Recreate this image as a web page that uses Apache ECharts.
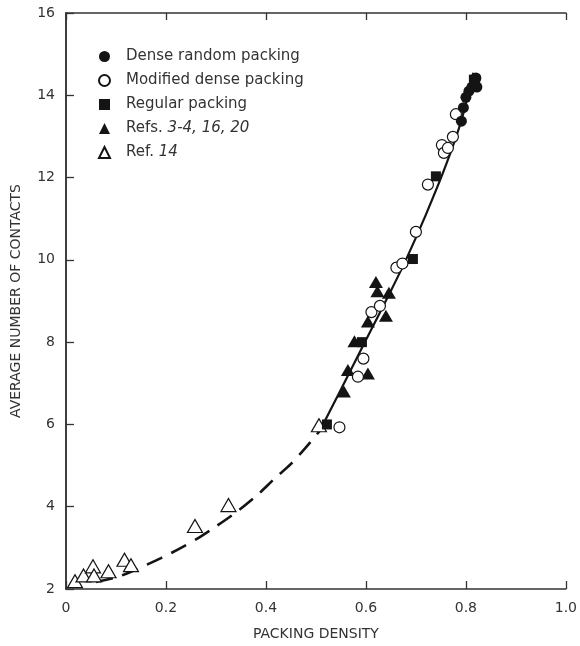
<!DOCTYPE html>
<html>
<head>
<meta charset="utf-8">
<script src="https://cdn.jsdelivr.net/npm/echarts@6/dist/echarts.min.js"></script>
<style>
  html, body { margin: 0; padding: 0; background: #fff; }
  #chart { width: 580px; height: 646px; }
</style>
</head>
<body>
<div id="chart"></div>
<script>
// Axis ticks
const xTicks = [0, 0.2, 0.4, 0.6, 0.8, 1.0];
const yTicks = [2, 4, 6, 8, 10, 12, 14, 16];

// Measured points: [packing density, average number of contacts]
const denseRandom = [
  [0.791, 13.37], [0.795, 13.7], [0.800, 13.95], [0.806, 14.1],
  [0.812, 14.2], [0.818, 14.35], [0.822, 14.2], [0.820, 14.42]
];
const modifiedDense = [
  [0.547, 5.93], [0.584, 7.16], [0.595, 7.6], [0.611, 8.73], [0.628, 8.88],
  [0.661, 9.81], [0.673, 9.91], [0.700, 10.68], [0.724, 11.83],
  [0.752, 12.79], [0.756, 12.6], [0.764, 12.72], [0.774, 12.99], [0.780, 13.54]
];
const regular = [
  [0.522, 6.0], [0.592, 8.0], [0.694, 10.02], [0.740, 12.03], [0.816, 14.38]
];
const refs3_4_16_20 = [
  [0.620, 9.46], [0.623, 9.24], [0.646, 9.2], [0.604, 8.5], [0.640, 8.64],
  [0.577, 8.02], [0.564, 7.32], [0.604, 7.24], [0.556, 6.8]
];
const ref14 = [
  [0.018, 2.19], [0.035, 2.33], [0.054, 2.55], [0.056, 2.33], [0.085, 2.43],
  [0.117, 2.71], [0.130, 2.58], [0.258, 3.53], [0.325, 4.04], [0.506, 5.98]
];

// Fitted curve: solid over the measured range, dashed as extrapolation
const curveSolid = [
  [0.508, 5.85], [0.55, 6.85], [0.60, 8.05], [0.65, 9.25], [0.68, 10.0],
  [0.72, 11.1], [0.76, 12.3], [0.79, 13.35], [0.815, 14.55]
];
const curveDashed = [
  [0.06, 2.17], [0.10, 2.28], [0.13, 2.42], [0.19, 2.75], [0.23, 3.0],
  [0.27, 3.28], [0.30, 3.52], [0.344, 3.9], [0.384, 4.3], [0.417, 4.68],
  [0.45, 5.04], [0.48, 5.44], [0.508, 5.85]
];

const ink = '#141414';
const textColor = '#333333';
const fontFamily = 'DejaVu Sans';

const chart = echarts.init(document.getElementById('chart'), null, { renderer: 'canvas' });

const openStyle = { color: '#ffffff', borderColor: ink, borderWidth: 1.2, opacity: 1 };
const filledStyle = { color: ink, opacity: 1 };

chart.setOption({
  animation: false,
  backgroundColor: '#ffffff',
  grid: { left: 66, right: 7, top: 13, bottom: 53 },
  legend: {
    orient: 'vertical',
    left: 93,
    top: 44,
    itemWidth: 11,
    itemHeight: 11,
    itemGap: 9,
    data: [
      { name: 'Dense random packing', icon: 'circle' },
      { name: 'Modified dense packing', icon: 'circle' },
      { name: 'Regular packing', icon: 'rect' },
      { name: 'Refs. 3-4, 16, 20', icon: 'triangle' },
      { name: 'Ref. 14', icon: 'triangle' }
    ],
    formatter: function (name) {
      if (name === 'Refs. 3-4, 16, 20') return 'Refs. {i|3-4, 16, 20}';
      if (name === 'Ref. 14') return 'Ref. {i|14}';
      return name;
    },
    textStyle: {
      fontFamily: fontFamily, fontSize: 15, color: textColor, padding: [0, 0, 0, 11],
      rich: { i: { fontFamily: fontFamily, fontSize: 15, fontStyle: 'italic', color: textColor } }
    }
  },
  xAxis: [
    {
      type: 'value', min: 0, max: 1, interval: 0.2, position: 'bottom',
      name: 'PACKING DENSITY', nameLocation: 'middle', nameGap: 38,
      nameTextStyle: { fontFamily: fontFamily, fontSize: 14, color: textColor },
      axisLine: { show: true, lineStyle: { color: '#333', width: 1.5 } },
      axisTick: { show: true, inside: true, length: 8, lineStyle: { color: '#333', width: 1.3 } },
      axisLabel: {
        margin: 12, fontFamily: fontFamily, fontSize: 14, color: textColor,
        formatter: v => (v === 0 ? '0' : v.toFixed(1))
      },
      splitLine: { show: false }
    },
    {
      type: 'value', min: 0, max: 1, interval: 0.2, position: 'top',
      axisLine: { show: true, lineStyle: { color: '#333', width: 1.5 } },
      axisTick: { show: true, inside: true, length: 7, lineStyle: { color: '#333', width: 1.3 } },
      axisLabel: { show: false },
      splitLine: { show: false }
    }
  ],
  yAxis: [
    {
      type: 'value', min: 2, max: 16, interval: 2, position: 'left',
      name: 'AVERAGE NUMBER OF CONTACTS', nameLocation: 'middle', nameGap: 43, nameRotate: 90,
      nameTextStyle: { fontFamily: fontFamily, fontSize: 14, color: textColor },
      axisLine: { show: true, lineStyle: { color: '#333', width: 1.5 } },
      axisTick: { show: true, inside: true, length: 8, lineStyle: { color: '#333', width: 1.3 } },
      axisLabel: { margin: 11, fontFamily: fontFamily, fontSize: 14, color: textColor },
      splitLine: { show: false }
    },
    {
      type: 'value', min: 2, max: 16, interval: 2, position: 'right',
      axisLine: { show: true, lineStyle: { color: '#333', width: 1.5 } },
      axisTick: { show: false },
      axisLabel: { show: false },
      splitLine: { show: false }
    }
  ],
  series: [
    {
      name: 'curve', type: 'line', data: curveSolid, smooth: 0.3, symbol: 'none',
      lineStyle: { color: ink, width: 2.2 }, z: 1, silent: true
    },
    {
      name: 'curve-ext', type: 'line', data: curveDashed, smooth: 0.3, symbol: 'none',
      lineStyle: { color: ink, width: 2.6, type: [17, 10] }, z: 1, silent: true
    },
    {
      name: 'Ref. 14', type: 'scatter', data: ref14, symbol: 'triangle',
      symbolSize: [15, 13], itemStyle: openStyle, z: 3
    },
    {
      name: 'Refs. 3-4, 16, 20', type: 'scatter', data: refs3_4_16_20, symbol: 'triangle',
      symbolSize: [14, 12], itemStyle: filledStyle, z: 3
    },
    {
      name: 'Regular packing', type: 'scatter', data: regular, symbol: 'rect',
      symbolSize: 10, itemStyle: filledStyle, z: 3
    },
    {
      name: 'Modified dense packing', type: 'scatter', data: modifiedDense, symbol: 'circle',
      symbolSize: 11, itemStyle: openStyle, z: 4
    },
    {
      name: 'Dense random packing', type: 'scatter', data: denseRandom, symbol: 'circle',
      symbolSize: 11, itemStyle: filledStyle, z: 4
    }
  ]
});
</script>
</body>
</html>
